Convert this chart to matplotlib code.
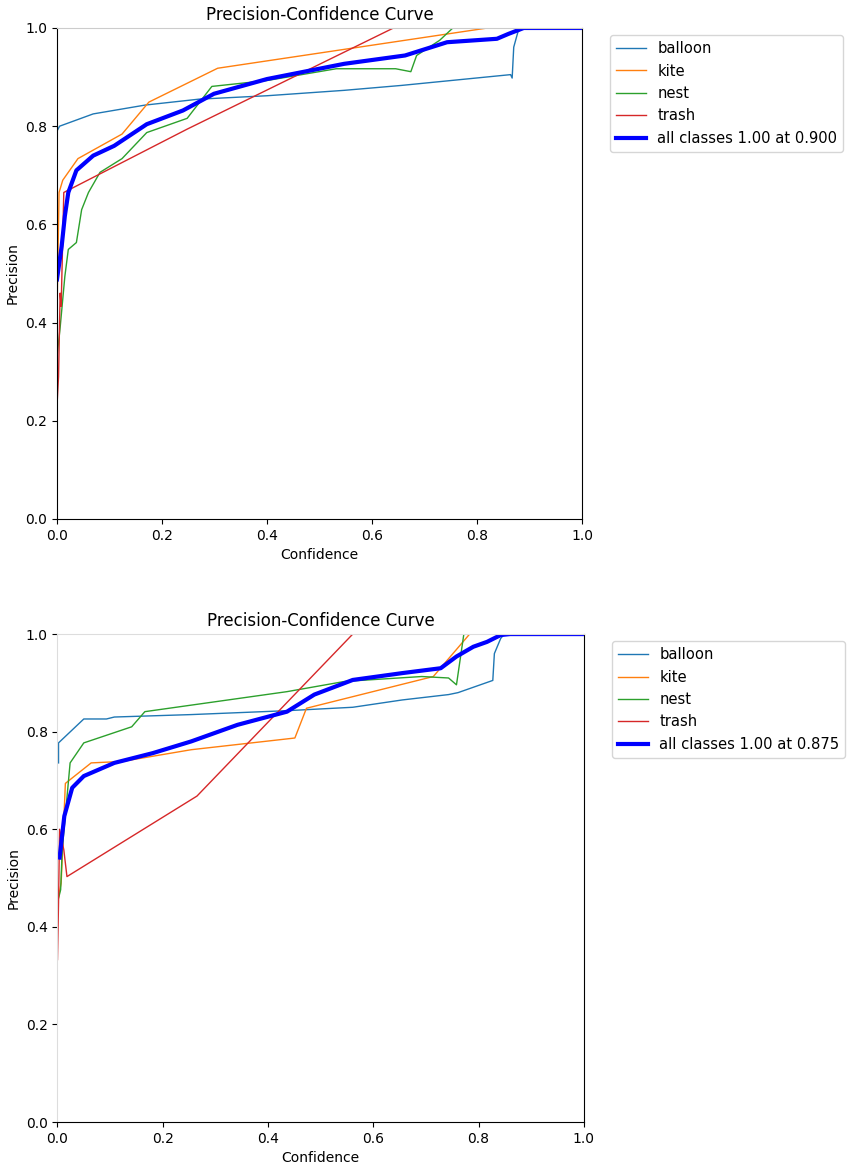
import numpy as np
import matplotlib
matplotlib.use("Agg")
import matplotlib.pyplot as plt

names = ["balloon", "kite", "nest", "trash"]

# ---- run 1 (top) ----
top_balloon_c = [0.0, 0.0, 0.005, 0.069, 0.168, 0.27, 0.40, 0.547, 0.656, 0.864, 0.867, 0.870, 0.878, 0.885, 1.0]
top_balloon_p = [0.63, 0.79, 0.80, 0.825, 0.843, 0.855, 0.862, 0.873, 0.883, 0.905, 0.898, 0.961, 0.992, 1.0, 1.0]
top_kite_c = [0.0, 0.002, 0.004, 0.011, 0.04, 0.124, 0.175, 0.306, 0.82, 1.0]
top_kite_p = [0.42, 0.54, 0.665, 0.69, 0.734, 0.784, 0.849, 0.918, 1.0, 1.0]
top_nest_c = [0.0, 0.0057, 0.015, 0.0216, 0.037, 0.047, 0.06, 0.082, 0.124, 0.171, 0.248, 0.295,
              0.40, 0.532, 0.645, 0.674, 0.685, 0.729, 0.754, 1.0]
top_nest_p = [0.33, 0.386, 0.494, 0.549, 0.563, 0.63, 0.665, 0.706, 0.734, 0.787, 0.816, 0.881,
              0.893, 0.917, 0.917, 0.911, 0.944, 0.975, 1.0, 1.0]
top_trash_c = [0.0, 0.003, 0.006, 0.008, 0.013, 0.248, 0.641, 1.0]
top_trash_p = [0.23, 0.29, 0.46, 0.433, 0.665, 0.794, 1.0, 1.0]
top_all_c = [0.0, 0.009, 0.015, 0.0216, 0.037, 0.069, 0.109, 0.171, 0.24, 0.299, 0.40, 0.547,
             0.663, 0.743, 0.838, 0.86, 0.889, 1.0]
top_all_p = [0.488, 0.556, 0.617, 0.665, 0.71, 0.74, 0.76, 0.804, 0.832, 0.866, 0.896, 0.927,
             0.944, 0.971, 0.978, 0.988, 1.0, 1.0]
top_best = "all classes 1.00 at 0.900"

# ---- run 2 (bottom) ----
bot_balloon_c = [0.002, 0.002, 0.05, 0.093, 0.108, 0.254, 0.436, 0.561, 0.655, 0.743, 0.761, 0.827,
                 0.83, 0.842, 0.849, 1.0]
bot_balloon_p = [0.736, 0.777, 0.826, 0.826, 0.83, 0.835, 0.843, 0.85, 0.865, 0.876, 0.88, 0.905,
                 0.96, 0.991, 1.0, 1.0]
bot_kite_c = [0.0, 0.007, 0.015, 0.064, 0.123, 0.254, 0.451, 0.473, 0.714, 0.783, 1.0]
bot_kite_p = [0.45, 0.49, 0.694, 0.736, 0.739, 0.763, 0.787, 0.848, 0.913, 1.0, 1.0]
bot_nest_c = [0.0, 0.006, 0.009, 0.024, 0.05, 0.141, 0.166, 0.436, 0.546, 0.692, 0.743, 0.758, 0.772, 1.0]
bot_nest_p = [0.45, 0.476, 0.558, 0.736, 0.777, 0.81, 0.841, 0.882, 0.903, 0.913, 0.91, 0.896, 1.0, 1.0]
bot_trash_c = [0.0, 0.002, 0.004, 0.012, 0.018, 0.265, 0.561, 1.0]
bot_trash_p = [0.333, 0.45, 0.6, 0.558, 0.503, 0.668, 1.0, 1.0]
bot_all_c = [0.004, 0.013, 0.028, 0.05, 0.108, 0.181, 0.254, 0.342, 0.436, 0.488, 0.561, 0.655,
             0.728, 0.758, 0.79, 0.816, 0.842, 0.86, 1.0]
bot_all_p = [0.542, 0.627, 0.685, 0.709, 0.736, 0.756, 0.78, 0.814, 0.841, 0.876, 0.906, 0.92,
             0.93, 0.954, 0.974, 0.984, 0.998, 1.0, 1.0]
bot_best = "all classes 1.00 at 0.875"

colors = ["tab:blue", "tab:orange", "tab:green", "tab:red"]

fig = plt.figure(figsize=(8.49, 11.66), dpi=100)
ax1 = fig.add_axes([0.0671, 0.5549, 0.6184, 0.4211])
ax2 = fig.add_axes([0.0677, 0.0377, 0.6200, 0.4185])


def draw(ax, curves, all_c, all_p, best):
    for (c, p), name, col in zip(curves, names, colors):
        ax.plot(c, p, linewidth=1, label=name, color=col)
    ax.plot(all_c, all_p, linewidth=3, color="blue", label=best)
    ax.set_xlabel("Confidence")
    ax.set_ylabel("Precision")
    ax.set_xlim(0, 1)
    ax.set_ylim(0, 1)
    ax.set_title("Precision-Confidence Curve", fontsize=12)
    ax.legend(bbox_to_anchor=(1.04, 1), loc="upper left", fontsize=10.6)


draw(ax1, [(top_balloon_c, top_balloon_p), (top_kite_c, top_kite_p),
           (top_nest_c, top_nest_p), (top_trash_c, top_trash_p)],
     top_all_c, top_all_p, top_best)
draw(ax2, [(bot_balloon_c, bot_balloon_p), (bot_kite_c, bot_kite_p),
           (bot_nest_c, bot_nest_p), (bot_trash_c, bot_trash_p)],
     bot_all_c, bot_all_p, bot_best)

# spines look faded in the source image
ax1.spines["top"].set_color("#cccccc")
ax2.spines["top"].set_color("#dddddd")
ax2.spines["left"].set_color("#dddddd")

fig.savefig("out.png", dpi=100)
